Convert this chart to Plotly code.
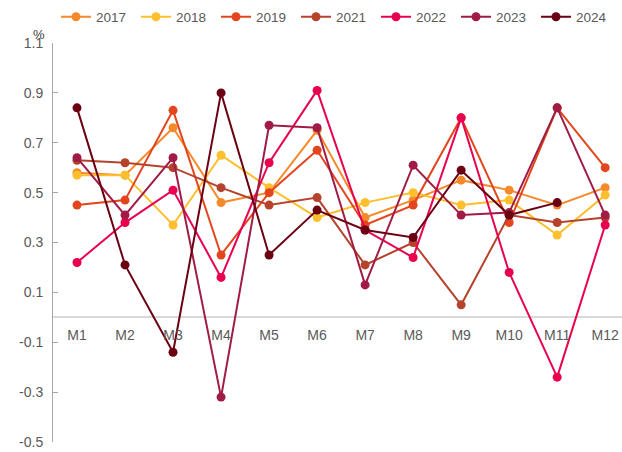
import plotly.graph_objects as go

months = ["M1", "M2", "M3", "M4", "M5", "M6", "M7", "M8", "M9", "M10", "M11", "M12"]
series_names = ["2017", "2018", "2019", "2021", "2022", "2023", "2024"]

v2017 = [0.58, 0.57, 0.76, 0.46, 0.50, 0.75, 0.40, 0.47, 0.55, 0.51, 0.45, 0.52]
v2018 = [0.57, 0.57, 0.37, 0.65, 0.52, 0.40, 0.46, 0.50, 0.45, 0.47, 0.33, 0.49]
v2019 = [0.45, 0.47, 0.83, 0.25, 0.50, 0.67, 0.37, 0.45, 0.80, 0.38, 0.84, 0.60]
v2021 = [0.63, 0.62, 0.60, 0.52, 0.45, 0.48, 0.21, 0.30, 0.05, 0.41, 0.38, 0.40]
v2022 = [0.22, 0.38, 0.51, 0.16, 0.62, 0.91, 0.35, 0.24, 0.80, 0.18, -0.24, 0.37]
v2023 = [0.64, 0.41, 0.64, -0.32, 0.77, 0.76, 0.13, 0.61, 0.41, 0.42, 0.84, 0.41]
v2024 = [0.84, 0.21, -0.14, 0.90, 0.25, 0.43, 0.35, 0.32, 0.59, 0.41, 0.46, None]

values = [v2017, v2018, v2019, v2021, v2022, v2023, v2024]
colors = ["#F58A2A", "#FDBF2D", "#E3461E", "#B5432B", "#E8004F", "#A01C45", "#6B0012"]

fig = go.Figure()
for name, vals, col in zip(series_names, values, colors):
    fig.add_trace(go.Scatter(
        x=months, y=vals, name=name, mode="lines+markers",
        line=dict(color=col, width=2),
        marker=dict(color=col, size=9),
        connectgaps=False,
    ))

W, H = 622, 452
fig.update_layout(
    width=W, height=H,
    margin=dict(l=53, r=0, t=43, b=10, autoexpand=False),
    paper_bgcolor="white", plot_bgcolor="white",
    font=dict(family="Liberation Sans, Arial, sans-serif", size=14, color="#595959"),
    showlegend=True,
    legend=dict(orientation="h", x=56 / W, xanchor="left", xref="container",
                y=1 - 17 / H, yanchor="middle", yref="container",
                font=dict(size=13.5, color="#595959"),
                itemwidth=30, entrywidth=35, entrywidthmode="pixels",
                tracegroupgap=0, bgcolor="rgba(0,0,0,0)"),
    xaxis=dict(
        type="category", range=[-0.5, 11.35], showgrid=False, showline=False,
        ticks="", anchor="free", position=0.3125, zeroline=False,
        ticklabelstandoff=8,
        tickfont=dict(size=14, color="#595959"), automargin=False,
    ),
    yaxis=dict(
        range=[-0.5, 1.1], tickvals=[-0.5, -0.3, -0.1, 0.1, 0.3, 0.5, 0.7, 0.9, 1.1],
        ticktext=["-0.5", "-0.3", "-0.1", "0.1", "0.3", "0.5", "0.7", "0.9", "1.1"],
        showgrid=False, showline=True, linecolor="#A6A6A6", linewidth=1,
        ticks="inside", ticklen=5, tickcolor="#A6A6A6", ticklabelstandoff=6,
        zeroline=True, zerolinecolor="#D9D9D9", zerolinewidth=2,
        tickfont=dict(size=14, color="#595959"), automargin=False,
    ),
    annotations=[dict(text="%", x=0, xref="paper", xanchor="right", xshift=-6,
                      y=1.0, yref="paper", yanchor="bottom", yshift=-1,
                      showarrow=False, font=dict(size=13, color="#404040"))],
)

fig.write_html(
    "out.html",
    config={"displayModeBar": False},
    post_script="document.body.style.margin='0';document.body.style.overflow='hidden';",
)
